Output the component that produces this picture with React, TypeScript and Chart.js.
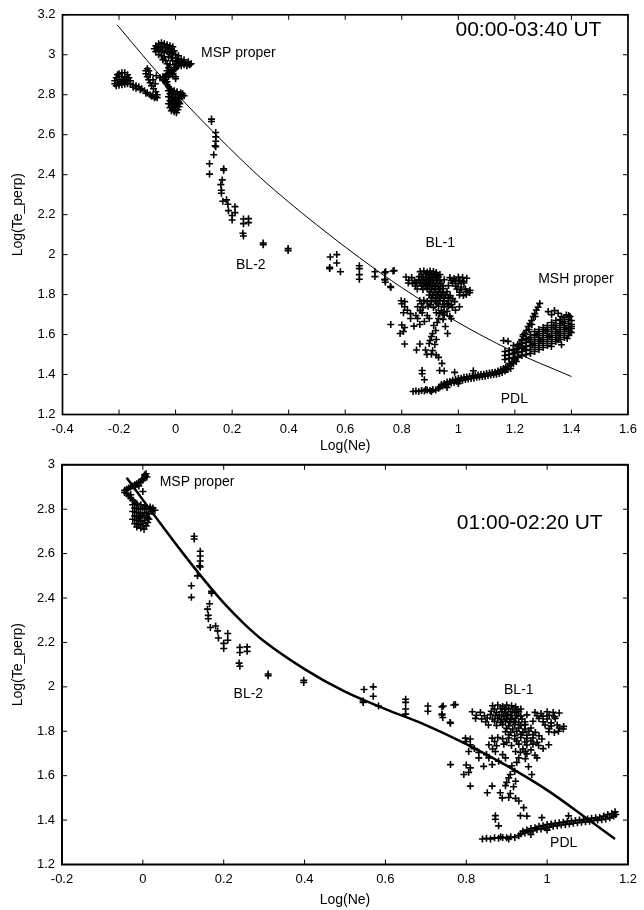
import React, { useEffect, useRef } from 'react';
import { Chart, registerables } from 'chart.js';

Chart.register(...registerables);

type P = [number, number];

const FONT = "'Liberation Sans', Arial, Helvetica, sans-serif";

// ---------- tick values ----------
const topXTicks = [-0.4, -0.2, 0, 0.2, 0.4, 0.6, 0.8, 1, 1.2, 1.4, 1.6];
const topYTicks = [1.2, 1.4, 1.6, 1.8, 2, 2.2, 2.4, 2.6, 2.8, 3, 3.2];
const botXTicks = [-0.2, 0, 0.2, 0.4, 0.6, 0.8, 1, 1.2];
const botYTicks = [1.2, 1.4, 1.6, 1.8, 2, 2.2, 2.4, 2.6, 2.8, 3];

// ---------- data (Log(Ne), Log(Te_perp)) ----------
// magnetospheric core, present in both intervals
const mspCore: P[] = [
  [-0.045, 2.885], [-0.04, 2.89], [-0.035, 2.895], [-0.03, 2.9], [-0.025, 2.905], [-0.02, 2.91],
  [-0.015, 2.915], [-0.01, 2.92], [-0.005, 2.925], [0.0, 2.93], [0.003, 2.94], [0.006, 2.95],
  [0.008, 2.96], [0.004, 2.955], [-0.002, 2.935], [0.01, 2.945], [-0.02, 2.9], [0.0, 2.88], [-0.01, 2.905],
  [-0.04, 2.87], [-0.035, 2.86], [-0.03, 2.85], [-0.025, 2.84], [-0.02, 2.83], [-0.015, 2.82],
  [-0.045, 2.875], [-0.03, 2.865],
  [-0.025, 2.82], [-0.015, 2.825], [-0.005, 2.82], [0.005, 2.815], [-0.02, 2.805], [-0.01, 2.8],
  [0.0, 2.805], [0.01, 2.8], [0.018, 2.81], [0.025, 2.805], [0.03, 2.795], [0.022, 2.79],
  [-0.025, 2.79], [-0.015, 2.785], [-0.005, 2.78], [0.005, 2.785], [0.015, 2.78], [-0.02, 2.77],
  [-0.01, 2.765], [0.0, 2.77], [0.01, 2.765], [0.015, 2.755], [-0.025, 2.755], [-0.015, 2.75],
  [-0.005, 2.745], [0.005, 2.75], [0.012, 2.74], [-0.02, 2.735], [-0.01, 2.73], [0.0, 2.735],
  [0.008, 2.725], [-0.005, 2.715], [0.003, 2.71], [-0.015, 2.72], [0.012, 2.76], [-0.008, 2.76], [0.02, 2.8],
];

// magnetospheric blobs only seen in the long interval
const mspExtra: P[] = [
  [-0.215, 2.87], [-0.21, 2.885], [-0.205, 2.9], [-0.2, 2.905], [-0.19, 2.91], [-0.18, 2.91],
  [-0.17, 2.9], [-0.165, 2.885], [-0.2, 2.875], [-0.19, 2.89], [-0.18, 2.89], [-0.175, 2.875],
  [-0.215, 2.855], [-0.205, 2.86], [-0.195, 2.865], [-0.185, 2.87], [-0.17, 2.865], [-0.16, 2.87],
  [-0.21, 2.845], [-0.2, 2.848], [-0.19, 2.85], [-0.18, 2.852], [-0.17, 2.855], [-0.16, 2.855],
  [-0.15, 2.85], [-0.14, 2.845], [-0.13, 2.84], [-0.12, 2.83], [-0.11, 2.82], [-0.1, 2.81],
  [-0.09, 2.8], [-0.08, 2.795], [-0.07, 2.79], [-0.065, 2.785], [-0.15, 2.838], [-0.14, 2.832],
  [-0.125, 2.825], [-0.105, 2.808], [-0.085, 2.792], [-0.075, 2.785],
  [-0.065, 2.8], [-0.07, 2.815], [-0.078, 2.83], [-0.085, 2.845], [-0.09, 2.86], [-0.095, 2.875],
  [-0.1, 2.89], [-0.105, 2.905], [-0.105, 2.92], [-0.1, 2.93], [-0.095, 2.92], [-0.09, 2.9],
  [-0.08, 2.875], [-0.072, 2.855],
  [-0.068, 2.895], [-0.055, 2.885], [-0.045, 2.89], [-0.04, 2.875],
  [-0.07, 3.045], [-0.06, 3.055], [-0.05, 3.06], [-0.04, 3.055], [-0.03, 3.05], [-0.02, 3.045], [-0.01, 3.04],
  [-0.075, 3.03], [-0.065, 3.035], [-0.055, 3.04], [-0.045, 3.035], [-0.035, 3.035], [-0.025, 3.03],
  [-0.015, 3.025], [-0.005, 3.02],
  [-0.07, 3.015], [-0.06, 3.02], [-0.05, 3.015], [-0.04, 3.01], [-0.03, 3.015], [-0.02, 3.01],
  [-0.01, 3.005], [0.0, 3.0], [0.01, 2.995],
  [-0.06, 3.0], [-0.05, 2.995], [-0.04, 2.99], [-0.025, 2.99], [-0.015, 2.985], [0.0, 2.985],
  [0.01, 2.98], [0.02, 2.975],
  [-0.045, 2.975], [-0.035, 2.97], [-0.01, 2.97], [0.005, 2.965], [0.015, 2.96], [0.025, 2.965],
  [0.035, 2.96], [0.045, 2.955], [0.05, 2.95],
  [-0.03, 2.955], [-0.02, 2.95], [0.0, 2.95], [0.02, 2.945], [0.03, 2.95], [0.04, 2.945],
  [0.055, 2.955], [0.045, 2.965], [0.03, 2.975],
  [-0.025, 2.935], [-0.015, 2.925], [-0.03, 2.92], [-0.02, 2.905], [-0.01, 2.9], [-0.025, 2.89], [0.0, 2.89],
];

// boundary layer 2
const bl2: P[] = [
  [0.127, 2.678], [0.127, 2.666], [0.142, 2.611], [0.142, 2.589], [0.142, 2.567], [0.14, 2.545],
  [0.142, 2.54], [0.135, 2.5], [0.12, 2.455], [0.12, 2.403], [0.17, 2.43], [0.17, 2.422],
  [0.165, 2.374], [0.16, 2.35], [0.162, 2.322], [0.162, 2.307], [0.167, 2.267], [0.18, 2.274],
  [0.185, 2.252], [0.187, 2.22], [0.2, 2.196], [0.21, 2.24], [0.21, 2.21], [0.2, 2.173],
  [0.24, 2.178], [0.24, 2.155], [0.258, 2.18], [0.258, 2.16], [0.238, 2.107], [0.24, 2.093],
  [0.31, 2.058], [0.31, 2.05], [0.398, 2.03], [0.398, 2.02], [0.547, 1.988], [0.57, 2.0],
  [0.57, 1.958], [0.545, 1.936], [0.545, 1.93], [0.583, 1.914], [0.65, 1.944], [0.65, 1.93],
  [0.65, 1.9], [0.65, 1.877], [0.705, 1.914], [0.705, 1.89], [0.743, 1.914], [0.74, 1.877],
  [0.742, 1.862], [0.773, 1.92], [0.76, 1.84], [0.74, 1.91], [0.74, 1.873], [0.761, 1.836], [0.769, 1.918],
];

// boundary layer 1
const bl1: P[] = [
  [0.865, 1.915], [0.878, 1.918], [0.89, 1.912], [0.9, 1.918], [0.912, 1.915], [0.922, 1.91],
  [0.87, 1.9], [0.885, 1.902], [0.895, 1.898], [0.905, 1.903], [0.915, 1.9], [0.925, 1.897], [0.935, 1.9],
  [0.815, 1.888], [0.835, 1.885], [0.862, 1.89], [0.875, 1.885], [0.888, 1.888], [0.898, 1.882],
  [0.91, 1.888], [0.92, 1.884], [0.93, 1.888], [0.97, 1.885], [0.985, 1.88], [1.0, 1.888],
  [1.015, 1.885], [1.03, 1.882],
  [0.825, 1.872], [0.845, 1.87], [0.86, 1.875], [0.872, 1.87], [0.882, 1.874], [0.893, 1.868],
  [0.903, 1.874], [0.913, 1.87], [0.925, 1.872], [0.935, 1.868], [0.95, 1.874], [0.975, 1.87],
  [0.99, 1.868], [1.005, 1.872], [1.018, 1.866],
  [0.823, 1.858], [0.838, 1.855], [0.852, 1.86], [0.865, 1.855], [0.878, 1.858], [0.888, 1.852],
  [0.9, 1.858], [0.91, 1.854], [0.922, 1.858], [0.938, 1.855], [0.98, 1.858], [1.0, 1.855], [1.02, 1.858],
  [0.848, 1.843], [0.87, 1.845], [0.885, 1.84], [0.897, 1.845], [0.908, 1.84], [0.918, 1.845],
  [0.93, 1.84], [0.945, 1.843], [0.965, 1.845], [0.99, 1.843], [1.01, 1.838],
  [0.855, 1.828], [0.875, 1.826], [0.89, 1.83], [0.905, 1.825], [0.92, 1.83], [0.935, 1.826],
  [0.946, 1.83], [0.995, 1.828], [1.01, 1.824], [1.025, 1.828], [1.041, 1.822],
  [0.9, 1.813], [0.915, 1.81], [0.93, 1.815], [0.945, 1.81], [0.96, 1.815], [1.005, 1.812],
  [1.03, 1.815], [1.04, 1.81],
  [0.897, 1.798], [0.91, 1.795], [0.925, 1.8], [0.94, 1.795], [0.955, 1.8], [0.971, 1.795],
  [1.004, 1.798], [1.018, 1.795], [1.028, 1.8],
  [0.905, 1.784], [0.92, 1.78], [0.935, 1.786], [0.95, 1.782], [0.965, 1.785], [0.98, 1.78],
  [0.798, 1.769], [0.81, 1.765], [0.864, 1.769], [0.878, 1.772], [0.89, 1.766], [0.905, 1.77],
  [0.92, 1.765], [0.935, 1.772], [0.95, 1.768], [0.965, 1.77], [0.987, 1.765],
  [0.8, 1.754], [0.87, 1.754], [0.9, 1.75], [0.925, 1.756], [0.945, 1.752], [0.96, 1.756], [0.975, 1.75],
  [0.81, 1.739], [0.856, 1.739], [0.875, 1.735], [0.893, 1.742], [0.912, 1.736], [0.93, 1.742],
  [0.95, 1.738], [0.965, 1.742], [0.979, 1.736], [1.004, 1.739],
  [0.82, 1.722], [0.865, 1.72], [0.94, 1.72], [0.96, 1.716], [0.99, 1.722],
  [0.806, 1.709], [0.831, 1.705], [0.872, 1.709], [0.922, 1.709], [0.934, 1.705], [0.946, 1.709],
  [0.85, 1.695], [0.89, 1.695], [0.95, 1.698], [0.97, 1.692],
  [0.831, 1.68], [0.856, 1.68], [0.897, 1.68], [0.93, 1.68], [0.946, 1.676], [0.975, 1.68],
  [0.761, 1.65], [0.8, 1.648], [0.81, 1.635], [0.843, 1.642], [0.864, 1.65], [0.913, 1.645],
  [0.954, 1.64], [0.925, 1.66], [0.88, 1.665],
  [0.794, 1.605], [0.806, 1.615], [0.909, 1.605], [0.962, 1.605], [0.92, 1.62],
  [0.905, 1.59], [0.922, 1.575], [0.9, 1.57],
  [0.81, 1.553], [0.864, 1.553], [0.897, 1.555], [0.917, 1.55],
  [0.852, 1.523], [0.884, 1.523], [0.909, 1.52],
  [0.889, 1.5], [0.905, 1.502], [0.922, 1.498], [0.93, 1.486],
  [0.942, 1.456], [0.872, 1.42], [0.934, 1.42], [0.95, 1.418], [0.872, 1.404], [0.88, 1.374],
];

// plasma depletion layer
const pdl: P[] = [
  [0.84, 1.315], [0.85, 1.318], [0.86, 1.315], [0.87, 1.32], [0.88, 1.318], [0.89, 1.322],
  [0.9, 1.32], [0.91, 1.325], [0.92, 1.322], [0.885, 1.325], [0.905, 1.315], [0.93, 1.33],
  [0.935, 1.338], [0.94, 1.35], [0.945, 1.342], [0.95, 1.355], [0.955, 1.348], [0.96, 1.362],
  [0.965, 1.352], [0.97, 1.365], [0.975, 1.358], [0.98, 1.372], [0.985, 1.36], [0.99, 1.375],
  [0.995, 1.365], [1.0, 1.38], [1.005, 1.368], [1.01, 1.382], [1.015, 1.372], [1.02, 1.386],
  [1.025, 1.375], [1.03, 1.388], [1.035, 1.378], [1.04, 1.39], [1.045, 1.38], [1.05, 1.394],
  [1.055, 1.382], [1.06, 1.396], [1.065, 1.386], [1.07, 1.398], [1.075, 1.388], [1.08, 1.4],
  [1.085, 1.39], [1.09, 1.402], [1.095, 1.392], [1.1, 1.405], [1.105, 1.395], [1.11, 1.408],
  [1.115, 1.398], [1.12, 1.41], [1.125, 1.4], [1.13, 1.412], [1.135, 1.402], [1.14, 1.418],
  [1.145, 1.405], [1.15, 1.425], [1.155, 1.41], [1.16, 1.43], [1.165, 1.418], [1.168, 1.437],
  [1.17, 1.425], [0.987, 1.411], [1.053, 1.419], [0.96, 1.335], [1.0, 1.355],
];

// magnetosheath proper (long interval only)
const msh: P[] = [
  [1.175, 1.44], [1.18, 1.455], [1.185, 1.445], [1.19, 1.465], [1.195, 1.455], [1.2, 1.475],
  [1.205, 1.465], [1.21, 1.485], [1.175, 1.425], [1.185, 1.43],
  [1.165, 1.475], [1.165, 1.495], [1.165, 1.515],
  [1.18, 1.48], [1.18, 1.5], [1.18, 1.52],
  [1.195, 1.485], [1.195, 1.505], [1.195, 1.525], [1.195, 1.545],
  [1.21, 1.49], [1.21, 1.51], [1.21, 1.53], [1.21, 1.55],
  [1.225, 1.495], [1.225, 1.515], [1.225, 1.535], [1.225, 1.555], [1.225, 1.575],
  [1.24, 1.5], [1.24, 1.52], [1.24, 1.54], [1.24, 1.56], [1.24, 1.58],
  [1.255, 1.505], [1.255, 1.525], [1.255, 1.545], [1.255, 1.565], [1.255, 1.585], [1.255, 1.6],
  [1.27, 1.515], [1.27, 1.535], [1.27, 1.555], [1.27, 1.575], [1.27, 1.595], [1.27, 1.615],
  [1.285, 1.525], [1.285, 1.545], [1.285, 1.565], [1.285, 1.585], [1.285, 1.605], [1.285, 1.625],
  [1.3, 1.535], [1.3, 1.555], [1.3, 1.575], [1.3, 1.595], [1.3, 1.615], [1.3, 1.635],
  [1.315, 1.545], [1.315, 1.565], [1.315, 1.585], [1.315, 1.605], [1.315, 1.625], [1.315, 1.645],
  [1.33, 1.555], [1.33, 1.575], [1.33, 1.595], [1.33, 1.615], [1.33, 1.635], [1.33, 1.66],
  [1.345, 1.565], [1.345, 1.585], [1.345, 1.605], [1.345, 1.625], [1.345, 1.645], [1.345, 1.67],
  [1.36, 1.575], [1.36, 1.595], [1.36, 1.615], [1.36, 1.635], [1.36, 1.655], [1.36, 1.675],
  [1.375, 1.585], [1.375, 1.605], [1.375, 1.625], [1.375, 1.645], [1.375, 1.665], [1.375, 1.685],
  [1.39, 1.595], [1.39, 1.615], [1.39, 1.635], [1.39, 1.655], [1.39, 1.675], [1.39, 1.695],
  [1.4, 1.61], [1.4, 1.63], [1.4, 1.65], [1.4, 1.67],
  [1.232, 1.53], [1.262, 1.552], [1.292, 1.57], [1.322, 1.59], [1.352, 1.61], [1.382, 1.63],
  [1.248, 1.575], [1.278, 1.6], [1.308, 1.62], [1.338, 1.645], [1.368, 1.66], [1.395, 1.615],
  [1.2, 1.51], [1.206, 1.525], [1.212, 1.54], [1.218, 1.555], [1.224, 1.57], [1.229, 1.59],
  [1.235, 1.605], [1.241, 1.62], [1.247, 1.64], [1.253, 1.655], [1.259, 1.67], [1.265, 1.69],
  [1.27, 1.705], [1.276, 1.723], [1.282, 1.737], [1.288, 1.756], [1.26, 1.65], [1.25, 1.625], [1.272, 1.69],
  [1.318, 1.715], [1.33, 1.7], [1.353, 1.707], [1.365, 1.69], [1.382, 1.698], [1.395, 1.69],
  [1.4, 1.64], [1.353, 1.574], [1.329, 1.54], [1.365, 1.549], [1.229, 1.599], [1.176, 1.566],
  [1.16, 1.57], [1.385, 1.58], [1.34, 1.72],
];

// fitted curves
const topFit: P[] = [
  [-0.207, 3.15], [-0.1, 2.97], [0.0, 2.81], [0.15, 2.59], [0.3, 2.385], [0.4, 2.263],
  [0.5, 2.148], [0.65, 1.985], [0.8, 1.835], [1.0, 1.66], [1.18, 1.525], [1.4, 1.39],
];
const botFit: P[] = [
  [-0.04, 2.942], [0.0, 2.842], [0.05, 2.72], [0.1, 2.6], [0.15, 2.485], [0.2, 2.378],
  [0.25, 2.285], [0.3, 2.205], [0.4, 2.08], [0.5, 1.978], [0.6, 1.9], [0.7, 1.828],
  [0.8, 1.742], [0.9, 1.645], [1.0, 1.535], [1.1, 1.405], [1.168, 1.315],
];

// ---------- annotations ----------
type Label = { text: string; x: number; y: number; size: number };
const topLabels: Label[] = [
  { text: '00:00-03:40 UT', x: 1.248, y: 3.125, size: 21 },
  { text: 'MSP proper', x: 0.222, y: 3.007, size: 14 },
  { text: 'BL-1', x: 0.936, y: 2.057, size: 14 },
  { text: 'BL-2', x: 0.266, y: 1.945, size: 14 },
  { text: 'MSH proper', x: 1.416, y: 1.878, size: 14 },
  { text: 'PDL', x: 1.198, y: 1.277, size: 14 },
];
const botLabels: Label[] = [
  { text: '01:00-02:20 UT', x: 0.957, y: 2.736, size: 21 },
  { text: 'MSP proper', x: 0.134, y: 2.923, size: 14 },
  { text: 'BL-1', x: 0.93, y: 1.986, size: 14 },
  { text: 'BL-2', x: 0.261, y: 1.966, size: 14 },
  { text: 'PDL', x: 1.041, y: 1.296, size: 14 },
];

const fmt = (v: number) => String(Math.round(v * 10) / 10);
const toXY = (arr: P[]) => arr.map(([x, y]) => ({ x, y }));

function makeFramePlugin(labels: Label[], frameWidth: number) {
  return {
    id: 'frameAndLabels',
    afterDatasetsDraw(chart: any) {
      const { ctx, chartArea: a, scales } = chart;
      const xs = scales.x;
      const ys = scales.y;
      ctx.save();
      ctx.strokeStyle = '#000';
      ctx.lineWidth = 1;
      ctx.beginPath();
      for (const t of xs.ticks) {
        const p = xs.getPixelForValue(t.value);
        ctx.moveTo(p, a.bottom);
        ctx.lineTo(p, a.bottom - 5);
        ctx.moveTo(p, a.top);
        ctx.lineTo(p, a.top + 5);
      }
      for (const t of ys.ticks) {
        const p = ys.getPixelForValue(t.value);
        ctx.moveTo(a.left, p);
        ctx.lineTo(a.left + 5, p);
        ctx.moveTo(a.right, p);
        ctx.lineTo(a.right - 5, p);
      }
      ctx.stroke();
      ctx.lineWidth = frameWidth;
      ctx.strokeRect(a.left, a.top, a.right - a.left, a.bottom - a.top);
      ctx.fillStyle = '#000';
      ctx.textAlign = 'center';
      ctx.textBaseline = 'middle';
      for (const l of labels) {
        ctx.font = `${l.size}px ${FONT}`;
        ctx.fillText(l.text, xs.getPixelForValue(l.x), ys.getPixelForValue(l.y));
      }
      ctx.restore();
    },
  };
}

type Spec = {
  width: number;
  height: number;
  xMin: number;
  xMax: number;
  yMin: number;
  yMax: number;
  xTicks: number[];
  yTicks: number[];
  scatter: P[];
  fit: P[];
  fitWidth: number;
  frameWidth: number;
  labels: Label[];
  padTop: number;
  padRight: number;
  yWidth: number;
  xHeight: number;
  xTitlePad: number;
};

function ScatterPanel({ spec }: { spec: Spec }) {
  const ref = useRef<HTMLCanvasElement | null>(null);
  useEffect(() => {
    if (!ref.current) return;
    const tickFont = { family: FONT, size: 13 };
    const titleFont = { family: FONT, size: 14 };
    const chart = new Chart(ref.current, {
      type: 'scatter',
      data: {
        datasets: [
          {
            data: toXY(spec.scatter),
            pointStyle: 'cross',
            pointRadius: 3.5,
            pointBorderWidth: 1.6,
            borderColor: '#000',
            backgroundColor: '#000',
            showLine: false,
          } as any,
          {
            data: toXY(spec.fit),
            showLine: true,
            pointRadius: 0,
            borderColor: '#000',
            borderWidth: spec.fitWidth,
            cubicInterpolationMode: 'monotone',
            fill: false,
          } as any,
        ],
      },
      options: {
        animation: false,
        responsive: false,
        devicePixelRatio: 1,
        events: [],
        layout: { padding: { top: spec.padTop, right: spec.padRight, left: 0, bottom: 0 } },
        plugins: { legend: { display: false }, tooltip: { enabled: false } },
        scales: {
          x: {
            type: 'linear',
            min: spec.xMin,
            max: spec.xMax,
            afterBuildTicks: (s: any) => {
              s.ticks = spec.xTicks.map((v) => ({ value: v }));
            },
            afterFit: (s: any) => {
              s.height = spec.xHeight;
            },
            grid: { display: false, drawTicks: false },
            border: { display: false },
            ticks: {
              color: '#000',
              font: tickFont,
              padding: 7,
              maxRotation: 0,
              autoSkip: false,
              callback: (v: any) => fmt(Number(v)),
            },
            title: {
              display: true,
              text: 'Log(Ne)',
              color: '#000',
              font: titleFont,
              padding: { top: 0, bottom: spec.xTitlePad },
            },
          },
          y: {
            type: 'linear',
            min: spec.yMin,
            max: spec.yMax,
            afterBuildTicks: (s: any) => {
              s.ticks = spec.yTicks.map((v) => ({ value: v }));
            },
            afterFit: (s: any) => {
              s.width = spec.yWidth;
            },
            grid: { display: false, drawTicks: false },
            border: { display: false },
            ticks: {
              color: '#000',
              font: tickFont,
              padding: 7,
              autoSkip: false,
              callback: (v: any) => fmt(Number(v)),
            },
            title: {
              display: true,
              text: 'Log(Te_perp)',
              color: '#000',
              font: titleFont,
              padding: { top: 10, bottom: 0 },
            },
          },
        },
      } as any,
      plugins: [makeFramePlugin(spec.labels, spec.frameWidth)],
    });
    return () => chart.destroy();
  }, [spec]);
  return (
    <canvas
      ref={ref}
      width={spec.width}
      height={spec.height}
      style={{ width: spec.width, height: spec.height, display: 'block' }}
    />
  );
}

const topSpec: Spec = {
  width: 644,
  height: 460,
  xMin: -0.4,
  xMax: 1.6,
  yMin: 1.2,
  yMax: 3.2,
  xTicks: topXTicks,
  yTicks: topYTicks,
  scatter: [...mspExtra, ...mspCore, ...bl2, ...bl1, ...pdl, ...msh],
  fit: topFit,
  fitWidth: 1,
  frameWidth: 1.7,
  labels: topLabels,
  padTop: 13,
  padRight: 14,
  yWidth: 62.5,
  xHeight: 45.5,
  xTitlePad: 5,
};

const botSpec: Spec = {
  width: 644,
  height: 460,
  xMin: -0.2,
  xMax: 1.2,
  yMin: 1.2,
  yMax: 3,
  xTicks: botXTicks,
  yTicks: botYTicks,
  scatter: [...mspCore, ...bl2, ...bl1, ...pdl],
  fit: botFit,
  fitWidth: 2.5,
  frameWidth: 2,
  labels: botLabels,
  padTop: 11,
  padRight: 14.5,
  yWidth: 62,
  xHeight: 45.5,
  xTitlePad: 1.6,
};

export default function App() {
  return (
    <div style={{ position: 'absolute', left: 0, top: 0, width: 644, height: 910, background: '#fff' }}>
      <div style={{ position: 'absolute', left: 0, top: 0 }}>
        <ScatterPanel spec={topSpec} />
      </div>
      <div style={{ position: 'absolute', left: 0, top: 450 }}>
        <ScatterPanel spec={botSpec} />
      </div>
    </div>
  );
}
